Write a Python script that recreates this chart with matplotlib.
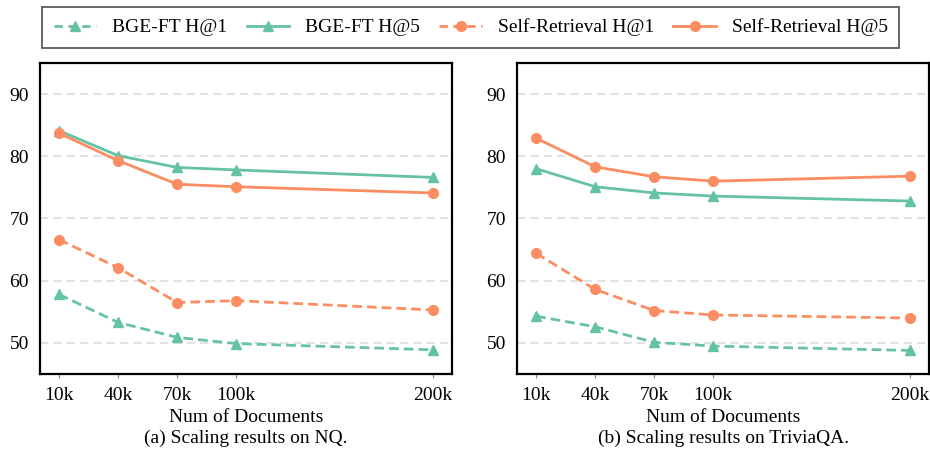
import matplotlib.pyplot as plt
from matplotlib.lines import Line2D

# x positions (thousands of documents)
docs = [10, 40, 70, 100, 200]
doc_labels = ['10k', '40k', '70k', '100k', '200k']

# NQ
nq_bge_h1 = [57.8, 53.3, 50.9, 49.9, 48.9]
nq_bge_h5 = [84.1, 80.1, 78.2, 77.8, 76.6]
nq_sr_h1 = [66.6, 62.1, 56.5, 56.8, 55.3]
nq_sr_h5 = [83.7, 79.3, 75.5, 75.1, 74.1]

# TriviaQA
tqa_bge_h1 = [54.3, 52.6, 50.1, 49.5, 48.8]
tqa_bge_h5 = [78.0, 75.1, 74.1, 73.6, 72.8]
tqa_sr_h1 = [64.4, 58.6, 55.2, 54.5, 54.0]
tqa_sr_h5 = [82.9, 78.3, 76.7, 76.0, 76.8]

green = '#66c2a5'
orange = '#fc8d62'

plt.rcParams['font.family'] = ['Liberation Serif', 'DejaVu Serif']
plt.rcParams['font.size'] = 14

fig = plt.figure(figsize=(9.3, 4.59), dpi=100)
ax1 = fig.add_axes([0.043, 0.185, 0.443, 0.678])
ax2 = fig.add_axes([0.556, 0.185, 0.443, 0.678])

panels = [
    (ax1, nq_bge_h1, nq_bge_h5, nq_sr_h1, nq_sr_h5, '(a) Scaling results on NQ.'),
    (ax2, tqa_bge_h1, tqa_bge_h5, tqa_sr_h1, tqa_sr_h5, '(b) Scaling results on TriviaQA.'),
]

dash = (3.5, 1.8)
for ax, b1, b5, s1, s5, caption in panels:
    ax.plot(docs, b1, color=green, ls='--', marker='^', ms=7, lw=2, dashes=dash)
    ax.plot(docs, b5, color=green, ls='-', marker='^', ms=7, lw=2)
    ax.plot(docs, s1, color=orange, ls='--', marker='o', ms=7, lw=2, dashes=dash)
    ax.plot(docs, s5, color=orange, ls='-', marker='o', ms=7, lw=2)

    ax.set_xlim(0.3, 209.7)
    ax.set_ylim(45, 95)
    ax.set_xticks(docs)
    ax.set_xticklabels(doc_labels)
    ax.set_yticks([50, 60, 70, 80, 90])
    ax.grid(axis='y', ls=(0, (5, 3)), color='#dddddd', lw=1.2)
    ax.set_axisbelow(True)
    ax.tick_params(axis='y', length=0, pad=8)
    ax.tick_params(axis='x', length=3, width=0.8, color='#888888', pad=6)
    for sp in ax.spines.values():
        sp.set_linewidth(1.6)
        sp.set_color('black')
    ax.set_xlabel('Num of Documents', labelpad=4)
    ax.text(0.5, -0.205, caption, transform=ax.transAxes, ha='center', va='center')

handles = [
    Line2D([], [], color=green, ls='--', marker='^', ms=7, lw=2, dashes=(3, 2)),
    Line2D([], [], color=green, ls='-', marker='^', ms=7, lw=2),
    Line2D([], [], color=orange, ls='--', marker='o', ms=7, lw=2, dashes=(3, 2)),
    Line2D([], [], color=orange, ls='-', marker='o', ms=7, lw=2),
]
labels = ['BGE-FT H@1', 'BGE-FT H@5', 'Self-Retrieval H@1', 'Self-Retrieval H@5']
leg = fig.legend(handles, labels, loc='center', bbox_to_anchor=(0.506, 0.940), ncol=4,
                 frameon=True, fancybox=False, edgecolor='#333333', handlelength=2.2,
                 columnspacing=1.0, borderpad=0.6)
leg.get_frame().set_linewidth(1.3)

fig.savefig('out.png', dpi=100)
